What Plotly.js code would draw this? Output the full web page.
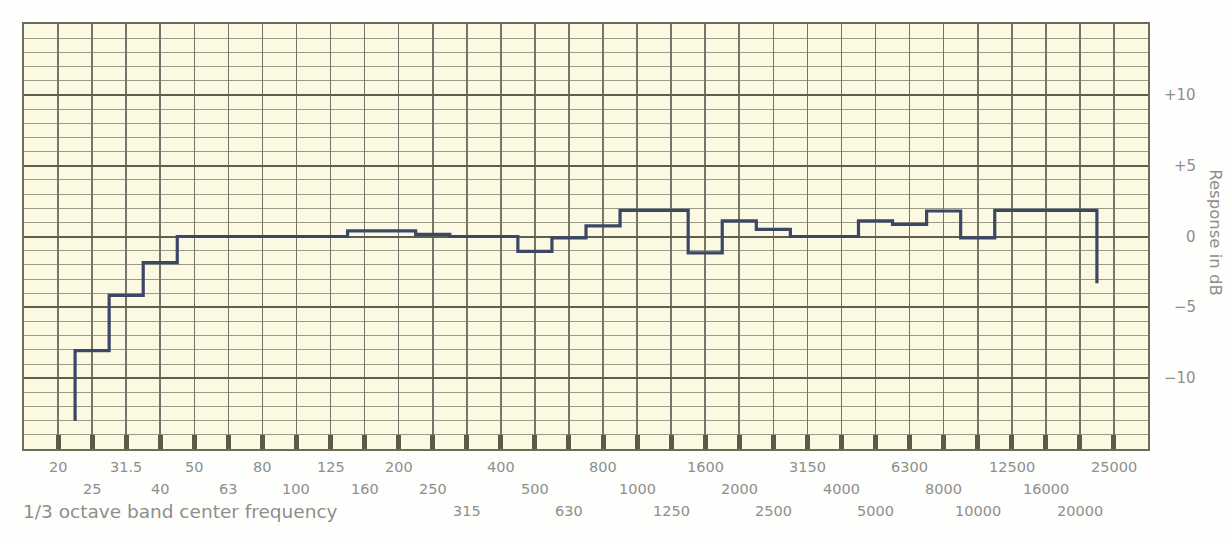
<!DOCTYPE html>
<html>
<head>
<meta charset="utf-8">
<script src="https://cdn.plot.ly/plotly-3.0.1.min.js"></script>
<style>
  html, body { margin: 0; padding: 0; background: #fefefc; }
  #chart { width: 1229px; height: 543px; }
</style>
</head>
<body>
<div id="chart"></div>
<script>
// 1/3 octave band centre frequencies (labels on the x axis)
const bands = ["20","25","31.5","40","50","63","80","100","125","160","200","250","315",
  "400","500","630","800","1000","1250","1600","2000","2500","3150","4000","5000","6300",
  "8000","10000","12500","16000","20000","25000"];
// Response in dB for the bands 25 Hz ... 20000 Hz
const levels = [-8.05, -4.15, -1.85, 0, 0, 0, 0, 0, 0.4, 0.4, 0.15, 0, 0, -1.05, -0.1,
  0.75, 1.85, 1.85, -1.15, 1.1, 0.5, 0, 0, 1.1, 0.85, 1.8, -0.1, 1.85, 1.85, 1.85];
// level where the pen starts (left of 25 Hz band) and where it ends (right of 20000 Hz band)
const startLevel = -13;
const endLevel = -3.3;
// right-hand response scale
const yTickVals = [10, 5, 0, -5, -10];
const yTickText = ["+10", "+5", "0", "\u22125", "\u221210"];
const xTitle = "1/3 octave band center frequency";
const yTitle = "Response in dB";

// Build the step path of the recorder pen from the band levels
const px = [0.5], py = [startLevel];
levels.forEach((v, k) => {
  const i = k + 1;
  px.push(i - 0.5, i + 0.5);
  py.push(v, v);
});
px.push(levels.length + 0.5);
py.push(endLevel);

const trace = {
  x: px, y: py, type: "scatter", mode: "lines",
  line: { color: "#3c4768", width: 3.2 },
  hoverinfo: "skip", showlegend: false
};

const FAM = "DejaVu Sans, Verdana, sans-serif";
const labelFont = { family: FAM, size: 14.5, color: "#8e8e8e" };
const annotations = [];
bands.forEach((b, i) => {
  const row = i < 12 ? (i % 2) : [2, 0, 1][(i - 12) % 3];
  annotations.push({
    x: i, xref: "x", y: 0, yref: "paper", yanchor: "middle", xanchor: "center",
    yshift: -18 - 22 * row, text: b, showarrow: false, font: labelFont
  });
});
annotations.push({
  x: 0, xref: "paper", xanchor: "left", xshift: -3, y: 0, yref: "paper", yanchor: "middle",
  yshift: -62, text: xTitle, showarrow: false,
  font: { family: FAM, size: 18.5, color: "#8e8e8e" }
});
yTickVals.forEach((v, k) => {
  annotations.push({
    x: 1, xref: "paper", xanchor: "right", xshift: 50, y: v, yref: "y", yanchor: "middle",
    text: yTickText[k], showarrow: false, font: { family: FAM, size: 15, color: "#8e8e8e" }
  });
});
annotations.push({
  x: 1, xref: "paper", xanchor: "center", xshift: 68, y: 0.51, yref: "paper",
  yanchor: "middle", text: yTitle, textangle: 90, showarrow: false,
  font: { family: FAM, size: 16.5, color: "#8e8e8e" }
});

const layout = {
  width: 1229, height: 543,
  margin: { l: 24, r: 81, t: 24, b: 94 },
  paper_bgcolor: "#fefefc",
  plot_bgcolor: "#fcf9e3",
  showlegend: false,
  xaxis: {
    range: [-1, 32], tick0: 0, dtick: 1, showticklabels: false,
    showgrid: true, gridcolor: "#74746a", gridwidth: 1.6,
    ticks: "inside", ticklen: 14, tickwidth: 5, tickcolor: "#5b5b48",
    showline: true, mirror: true, linecolor: "#6c6c58", linewidth: 2,
    zeroline: false, fixedrange: true
  },
  xaxis2: {
    type: "log", overlaying: "x", anchor: "y", side: "bottom",
    range: [Math.log10(20) - 0.1, Math.log10(20) + 3.2],
    dtick: "D1", showticklabels: false, ticks: "",
    showgrid: true, gridcolor: "rgba(130,130,110,0.35)", gridwidth: 1,
    showline: false, zeroline: false, fixedrange: true
  },
  yaxis: {
    range: [-15, 15], tick0: 0, dtick: 5, showticklabels: false,
    showgrid: true, gridcolor: "#5e5e4c", gridwidth: 2,
    minor: { dtick: 1, showgrid: true, gridcolor: "#9a9a86", gridwidth: 1 },
    showline: true, mirror: true, linecolor: "#6c6c58", linewidth: 2,
    zeroline: false, fixedrange: true
  },
  annotations: annotations
};

Plotly.newPlot("chart", [trace], layout, { displayModeBar: false, staticPlot: true });
</script>
</body>
</html>
